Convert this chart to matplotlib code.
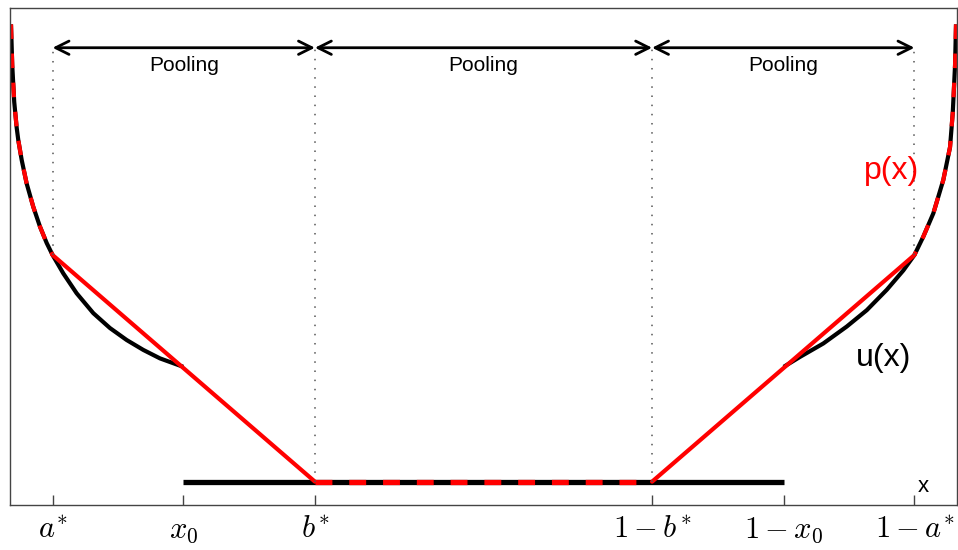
import numpy as np
import matplotlib.pyplot as plt

plt.rcParams['mathtext.fontset'] = 'cm'
plt.rcParams['font.family'] = ['Liberation Sans', 'DejaVu Sans']

# puntos clave del eje x
a_star = 0.045
x0 = 0.183
b_star = 0.322
floor_y = 0.047

# u(x), lado izquierdo (0 .. x0)
u_left_x = [0.0011, 0.0024, 0.0045, 0.0071, 0.0088, 0.0124, 0.0176, 0.0246, 0.0317, 0.0388,
            0.045, 0.0563, 0.0704, 0.0880, 0.1056, 0.1232, 0.1408, 0.1584, 0.183]
u_left_y = [0.967, 0.885, 0.811, 0.759, 0.734, 0.694, 0.647, 0.600, 0.560, 0.527,
            0.503, 0.466, 0.426, 0.386, 0.356, 0.332, 0.312, 0.295, 0.278]

# lado derecho (1-x0 .. 1)
u_right_x = [0.817, 0.8342, 0.8588, 0.8835, 0.9047, 0.9258, 0.9433, 0.955, 0.9644, 0.9750,
             0.9855, 0.9926, 0.9955, 0.9979, 0.9989]
u_right_y = [0.278, 0.298, 0.325, 0.359, 0.392, 0.433, 0.472, 0.503, 0.540, 0.587,
             0.654, 0.720, 0.790, 0.885, 0.967]

tick_pos = [a_star, x0, b_star, 1 - b_star, 1 - x0, 1 - a_star]
tick_labels = [r'$a^{\!*}$', r'$x_0$', r'$b^{\!*}$', r'$1-b^{\!*}$', r'$1-x_0$', r'$1-a^{\!*}$']

pool_edges = [a_star, b_star, 1 - b_star, 1 - a_star]
arrow_y = 0.92

fig = plt.figure(figsize=(9.58, 5.5), dpi=100)
ax = fig.add_axes([0.0104, 0.0818, 0.9886, 0.9037])

lw = 3
# u(x) en negro
ax.plot(u_left_x, u_left_y, color='black', lw=lw, solid_capstyle='butt', solid_joinstyle='round')
ax.plot(u_right_x, u_right_y, color='black', lw=lw, solid_capstyle='butt', solid_joinstyle='round')
ax.plot([x0, 1 - x0], [floor_y, floor_y], color='black', lw=lw + 0.8, solid_capstyle='butt')

# p(x) en rojo: coincide con u en los extremos (a trazos)
ia = int(np.argmin(np.abs(np.array(u_left_x) - a_star)))
ja = int(np.argmin(np.abs(np.array(u_right_x) - (1 - a_star))))
ax.plot(u_left_x[:ia + 1], u_left_y[:ia + 1], color='red', lw=lw, dashes=(3.5, 3.5))
ax.plot(u_right_x[ja:][::-1], u_right_y[ja:][::-1], color='red', lw=lw, dashes=(3.5, 3.5))
ax.plot([a_star, b_star], [u_left_y[ia], floor_y], color='red', lw=lw, solid_capstyle='round')
ax.plot([1 - b_star, 1 - a_star], [floor_y, u_right_y[ja]], color='red', lw=lw, solid_capstyle='round')
ax.plot([b_star, 1 - b_star], [floor_y, floor_y], color='red', lw=lw + 0.8, dashes=(3.2, 3.2))

# lineas punteadas verticales
dot = dict(color='#555555', lw=1.1, dashes=(1, 5))
ax.plot([a_star, a_star], [u_left_y[ia], arrow_y], **dot)
ax.plot([1 - a_star, 1 - a_star], [u_right_y[ja], arrow_y], **dot)
ax.plot([b_star, b_star], [floor_y, arrow_y], **dot)
ax.plot([1 - b_star, 1 - b_star], [floor_y, arrow_y], **dot)

# flechas de "Pooling"
for left, right in zip(pool_edges[:-1], pool_edges[1:]):
    ax.annotate('', xy=(right, arrow_y), xytext=(left, arrow_y),
                arrowprops=dict(arrowstyle='<->', lw=2, color='black',
                                mutation_scale=24, shrinkA=0, shrinkB=0))
    ax.text((left + right) / 2, 0.873, 'Pooling', ha='center', va='baseline', fontsize=15)

ax.text(0.922, 0.296, 'u(x)', ha='center', va='center', fontsize=23, color='black')
ax.text(0.931, 0.672, 'p(x)', ha='center', va='center', fontsize=23, color='red')
ax.text(0.964, 0.038, 'x', ha='center', va='center', fontsize=16)

ax.set_xlim(0, 1)
ax.set_ylim(0, 1)
ax.set_yticks([])
ax.set_xticks(tick_pos)
ax.set_xticklabels(tick_labels, fontsize=22)
ax.tick_params(axis='x', direction='in', length=7, width=1, color='#444444', pad=7)
for s in ax.spines.values():
    s.set_color('#444444')
    s.set_linewidth(1)

fig.savefig('out.png', dpi=100)
